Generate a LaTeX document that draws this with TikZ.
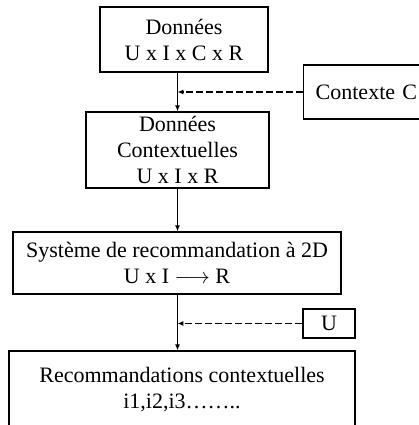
\documentclass[tikz,border=0pt]{standalone}
\usepackage{fontspec}
\setmainfont{Liberation Serif}
\usetikzlibrary{arrows.meta, positioning, calc}

\begin{document}
\begin{tikzpicture}[
  x=0.5pt, y=-0.5pt,
  bloc/.style={draw, line width=0.7pt, align=center, inner sep=0pt, font=\fontsize{11}{13}\selectfont},
  fleche/.style={line width=0.6pt, -{Latex[length=3pt, width=2.6pt]}},
  tirets/.style={fleche, dash pattern=on 3.5pt off 1.5pt}
]
  \clip (0,0) rectangle (419,425);
  \coordinate (axe) at (177.5,0);

  \node[bloc, minimum width=84pt, minimum height=32.5pt] (donnees) at (184,39.5) {Données\\U x I x C x R};
  \node[bloc, anchor=west, text width=60pt, align=left, inner xsep=6pt, minimum height=27pt] (contexte) at (303,92) {Contexte C};
  \node[bloc, minimum width=91.5pt, minimum height=38pt] (ctxdonnees) at (177.5,150) {Données\\Contextuelles\\U x I x R};
  \node[bloc, minimum width=164pt, minimum height=31pt] (systeme) at (177,263) {Système de recommandation à 2D\\U x I $\longrightarrow$ R};
  \node[bloc, minimum width=26pt, minimum height=14.5pt] (u) at (329,323.5) {U};
  \node[bloc, minimum width=173pt, minimum height=39pt] (recos) at (182,390) {Recommandations contextuelles\\i1,i2,i3……..};

  \draw[fleche] (donnees.south -| axe) -- (ctxdonnees.north -| axe);
  \draw[tirets] (contexte.west) -- (contexte.west -| axe);
  \draw[fleche] (ctxdonnees.south -| axe) -- (systeme.north -| axe);
  \draw[fleche] (systeme.south -| axe) -- (recos.north -| axe);
  \draw[tirets] (u.west) -- (u.west -| axe);
\end{tikzpicture}
\end{document}
